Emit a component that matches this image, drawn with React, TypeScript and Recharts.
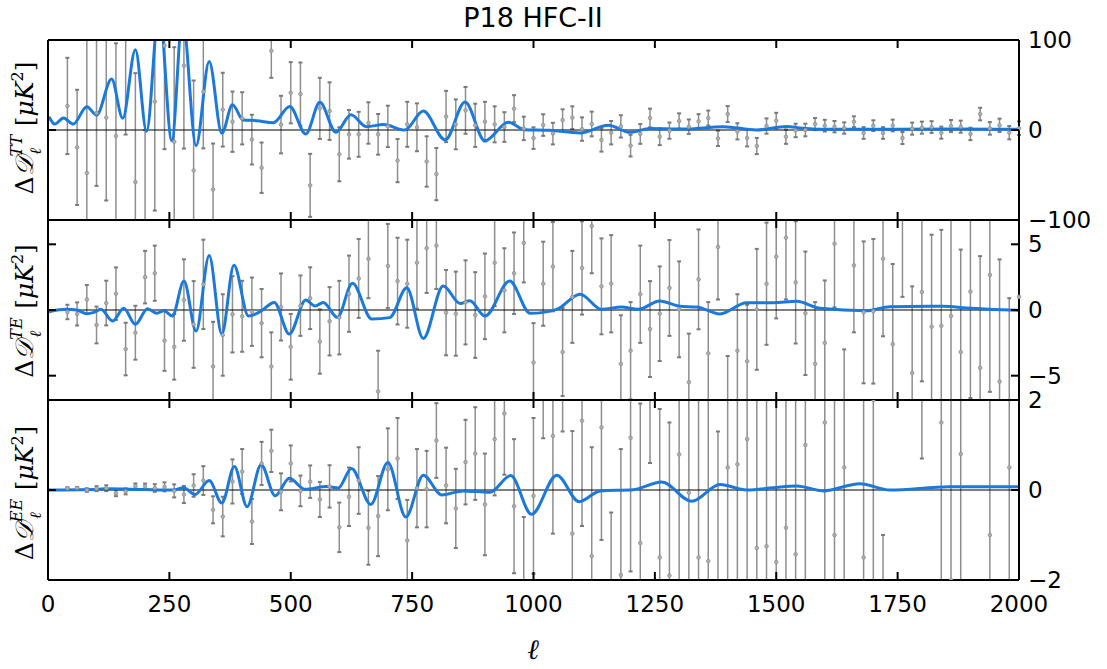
import React from 'react';
import { ComposedChart, Line, Scatter, Bar, XAxis, YAxis, ReferenceLine } from 'recharts';

const W = 1107;
const H = 669;
const PLOT_LEFT = 48;
const PLOT_RIGHT = 1019;

const FONT = '"DejaVu Sans", sans-serif';
const MATH = '"DejaVu Serif", serif';
const BLUE = '#1b79dc';
const GREY = '#8e8e8e';

// multipole bin centres of the residual points
const ELL = [
  40, 60, 80, 100, 120, 140, 160, 180, 200, 220,
  240, 260, 280, 300, 320, 340, 360, 380, 400, 420,
  440, 460, 480, 500, 520, 540, 560, 580, 600, 620,
  640, 660, 680, 700, 720, 740, 760, 780, 800, 820,
  840, 860, 880, 900, 920, 940, 960, 980, 1000, 1020,
  1040, 1060, 1080, 1100, 1120, 1140, 1160, 1180, 1200, 1220,
  1240, 1260, 1280, 1300, 1320, 1340, 1360, 1380, 1400, 1420,
  1440, 1460, 1480, 1500, 1520, 1540, 1560, 1580, 1600, 1620,
  1640, 1660, 1680, 1700, 1720, 1740, 1760, 1780, 1800, 1820,
  1840, 1860, 1880, 1900, 1920, 1940, 1960, 1980, 2000,
];

const TT_VAL = [
  26.7, -19.3, -47.8, 18.9, 13.7, -6.7, 110, -57.8, -120, 31.5,
  93.7, -13, 71.4, -45, 42.6, -66, 22.6, 9.2, 13, -10.7,
  -41.9, 88, 6, 41.4, 40, -61.5, 24, 21, -27, -4.8,
  -4.8, 7.8, -4.8, 4, -34, 6.3, 3, -35, -49, 15,
  6.3, 21.8, 5.2, 9.3, 6.3, 3.3, 23.7, 1.8, -9, 5.5,
  -4, 11, 13.7, 1, 6.7, -11, -3, 4, -17.4, -4.4,
  13.3, -7.4, -0.7, 10, 3.7, 9.6, 13.3, -9.3, 17.7, -1.5,
  -8.9, -17.8, 4.4, 10.4, -7.4, -0.5, 0, 6.6, 4.8, 3.7,
  2.2, 9.2, -3.3, 4.8, -3.3, 5, -8.9, 1.5, 2.6, 3.3,
  -3, 4.4, 3.7, -4.4, 17.7, 1.8, 5.2, -3, 2,
];
const TT_ERR = [
  53.5, 64, 160, 81, 92, 103, 115, 121, 120, 121,
  115, 105, 92, 100, 63, 51, 41, 33.5, 29, 27.6,
  28, 30, 32, 34, 35, 35, 34, 32, 30, 27,
  25, 23, 22.6, 23, 24, 25, 26.6, 28, 29, 28.5,
  27.7, 26, 24, 22, 20, 16.5, 15, 13, 12, 12,
  12, 12, 12.6, 13, 13.7, 13, 13, 12.4, 12, 11,
  10.4, 9.4, 9, 8.5, 8, 8, 8.3, 8.5, 8.9, 9,
  9.4, 9, 8.5, 8.7, 8, 7.5, 7, 6.7, 6.5, 6.3,
  6.3, 6, 6.5, 6, 6.5, 6.5, 6.7, 6.7, 6.7, 6.5,
  6.7, 6.7, 6.7, 6.9, 7, 7, 7.4, 7.4, 7.5,
];

const TE_VAL = [
  -0.15, -0.3, 0.8, -1.14, 0.53, 1.24, -2.97, -1.73, 2.5, 2.8,
  -2.33, -2.8, 0.76, -1.1, 1.95, -4.3, -1.9, -0.33, -0.48, -0.13,
  -1, -4.3, 0.23, -2.8, 0.33, 0.9, -2.4, -0.86, -0.58, 1.24,
  2.4, 3.9, -6.2, 3.35, 2.2, 2, 3.6, 4.7, 4.9, -0.2,
  -0.28, 0.58, -0.38, 1.04, 3.6, 1.5, 2.8, 5.1, -4, 2,
  3.3, -3.2, 1, 3.2, 6.4, 1.8, 2, -4.1, -3.1, 1.2,
  -1.45, -0.28, 1.68, 0.05, -5.5, 2.33, -3.3, 4.8, -7.6, -3.1,
  -3.9, 0.05, 2, 4.06, 5.5, 2.1, -0.25, -4.1, -2.5, 5.05,
  -7.9, 3.4, -0.18, -0.1, 3.9, -2.6, 7, -4.8, 1.37, -1.27,
  -1.2, -0.45, -3.2, 1.4, -4.4, 2.67, -5.45, -8.7, 1,
];
const TE_ERR = [
  0.55, 0.88, 1.1, 1.4, 1.7, 2, 2, 2.05, 2, 2.1,
  2.3, 2.5, 3.1, 3.3, 3.4, 3.4, 3.1, 2.9, 2.7, 2.6,
  2.6, 2.6, 2.55, 2.5, 2.3, 2.35, 2.45, 2.6, 2.8, 2.9,
  3, 3, 3.1, 3.2, 3.3, 3.35, 3.5, 3.4, 3.3, 3.25,
  3.2, 3.2, 3.26, 3.26, 3.3, 3.2, 3.1, 3, 3, 3.2,
  3.4, 3.35, 3.5, 3.55, 3.6, 3.65, 3.7, 3.7, 3.7, 3.7,
  3.65, 3.6, 3.65, 3.65, 3.7, 3.8, 3.9, 4, 4.1, 4.3,
  4.3, 4.6, 4.65, 4.7, 4.7, 4.65, 4.7, 4.7, 4.75, 4.85,
  4.9, 5.1, 5.4, 5.5, 5.9, 6.1, 6, 6.6, 6.8, 7,
  7.3, 7.5, 7.8, 8.1, 8.5, 8.9, 9.3, 9.6, 10,
];

const EE_VAL = [
  0.04, 0.045, 0, 0.03, 0.04, -0.07, -0.03, 0.09, 0.08, 0.045,
  0.07, -0.02, -0.1, 0.1, 0.21, -0.44, -0.59, 0.19, 0.41, -0.7,
  0.59, 0.87, -0.04, 0.59, -0.02, 0.185, -0.21, 0.08, -0.83, -0.15,
  0.21, -0.84, -0.58, 0.46, 0.7, -1.12, 0.04, 0.02, 1.1, 0.1,
  -0.41, 0.62, 0.81, -0.32, 1.13, 1.7, -0.36, -2.2, -0.13, 3,
  1.2, 3.4, -0.97, 1.54, -1.47, 1.39, -3.1, -1.89, 1.16, -1.18,
  3.8, -1.5, -1.9, 0.79, -0.06, -1.5, -1.58, -2.6, 0.5, 0.57,
  1.13, -1.29, -1.25, -1.6, -0.84, -1.43, 1, 7.5, 1.5, -1,
  0.5, -7.8, -1.5, 2, -6.8, 8.5, -8.6, 9, 7.3, -9.5,
  1.5, -2, 0.8, 10.5, -11, -1, 11.5, 0.5, -12,
];
const EE_ERR = [
  0.02, 0.02, 0.04, 0.055, 0.065, 0.067, 0.067, 0.055, 0.063, 0.085,
  0.1, 0.145, 0.19, 0.25, 0.32, 0.3, 0.44, 0.49, 0.5, 0.5,
  0.48, 0.47, 0.41, 0.4, 0.34, 0.36, 0.39, 0.47, 0.55, 0.65,
  0.74, 0.82, 0.89, 0.91, 0.9, 0.9, 0.87, 0.85, 0.83, 0.84,
  0.88, 0.94, 1.03, 1.13, 1.25, 1.36, 1.49, 1.6, 1.73, 1.85,
  2.17, 2.1, 2.28, 2.34, 2.42, 2.5, 2.6, 2.8, 2.97, 3.1,
  3.2, 3.3, 3.4, 3.5, 3.6, 3.7, 3.8, 3.9, 4, 4.1,
  4.2, 4.3, 4.4, 4.5, 4.6, 4.7, 4.8, 4.9, 5, 5.1,
  5.2, 5.3, 5.5, 5.6, 5.8, 6, 6.2, 6.4, 6.6, 6.9,
  7.1, 7.4, 7.7, 8, 8.3, 8.6, 9, 9.3, 9.6,
];

// model difference curves, sampled at their turning points
const TT_CURVE_L = [
  2, 14, 32, 52, 80, 100, 131, 154, 180, 203, 229, 255, 277, 305, 332, 358, 380, 402,
  430, 464, 498, 531, 560, 593, 624, 656, 691, 735, 773, 818, 859, 900, 948, 982,
  1033, 1096, 1154, 1199, 1240, 1308, 1391, 1459, 1521, 1549, 1597, 1734, 1871, 2000,
];
const TT_CURVE_V = [
  14.8, 6.6, 13.3, 6.6, 25.9, 16.6, 56.6, 13, 89.2, -1.5, 135, -12, 125, -17.4, 76, -3.7, 28, 11,
  10.4, 8, 26, -4.4, 30.7, -2.6, 17, 3.7, 6, 0, 21, -11, 31, -12, 8.5, 0.3,
  -0.4, -3.3, 5.2, -2.6, 1.8, 1, 3.7, 0, 4, 2.2, 0.7, 0.7, 1, 0.7,
];

const TE_CURVE_L = [
  2, 38, 59, 80, 93, 109, 133, 156, 180, 205, 224, 239, 256, 280, 305, 332, 358, 383,
  413, 437, 466, 497, 531, 550, 567, 596, 627, 667, 704, 739, 773, 814, 849, 869,
  900, 951, 993, 1048, 1096, 1140, 1181, 1216, 1260, 1302, 1336, 1384, 1439, 1494,
  1542, 1590, 1686, 1734, 1844, 1892, 2000,
];
const TE_CURVE_V = [
  -0.13, 0.05, 0, -0.28, -0.2, 0.05, -0.84, 0.13, -1.09, 0.1, -0.25, -0.05, -0.46, 2.2, -1.6, 4.14, -1.83, 3.4,
  -0.46, -0.13, 0.58, -1.83, 0.76, 0.3, 0.58, -0.56, 2.03, -0.69, -0.58, 1.7, -2.16, 1.83, 0.5, 0.71,
  -0.46, 2.2, -0.25, 0.05, 1.2, 0.05, 0.23, 0.05, 0.69, 0.28, 0.23, -0.3, 0.56, 0.56,
  0.66, 0.13, -0.05, 0.25, 0.28, 0.15, -0.03,
];

const EE_CURVE_L = [
  2, 100, 121, 200, 258, 279, 303, 332, 358, 384, 410, 439, 468, 497, 529, 574, 598,
  625, 665, 700, 737, 773, 811, 855, 910, 953, 996, 1048, 1094, 1137, 1205, 1264,
  1326, 1384, 1439, 1494, 1542, 1597, 1672, 1734, 1857, 2000,
];
const EE_CURVE_V = [
  0, 0.01, 0.03, 0.01, 0, 0.05, -0.1, 0.21, -0.29, 0.52, -0.37, 0.56, -0.13, 0.26, 0.015, 0.08, 0.044,
  0.48, -0.32, 0.61, -0.6, 0.33, -0.11, -0.02, -0.05, 0.32, -0.54, 0.33, -0.26, -0.02, 0.007, 0.18,
  -0.25, 0.12, 0, 0.05, 0.09, -0.02, 0.14, 0, 0.07, 0.07,
];

const X_TICKS = [0, 250, 500, 750, 1000, 1250, 1500, 1750, 2000];
const TT_TICKS = [-100, 0, 100];
const TE_TICKS = [-5, 0, 5];
const EE_TICKS = [-2, 0, 2];

type Pt = { l: number; v: number; e?: number };

const points = (vals: number[], errs: number[]): Pt[] =>
  ELL.map((l, i) => ({ l, v: vals[i], e: errs[i] }));
const curve = (ls: number[], vs: number[]): Pt[] => ls.map((l, i) => ({ l, v: vs[i] }));
const errRange = (d: Pt) => [d.v - (d.e ?? 0), d.v + (d.e ?? 0)];

const fmt = (v: number) => (v < 0 ? `\u2212${Math.abs(v)}` : `${v}`);

const TICK_LEN = 8;
const TICK_FONT = 23;

const xTick = (side: 'top' | 'bottom', label: boolean) => (p: any) => {
  const { x, y, payload } = p;
  const dir = side === 'top' ? 1 : -1;
  return (
    <g>
      <line x1={x} x2={x} y1={y} y2={y + dir * TICK_LEN} stroke="#000" strokeWidth={2} />
      {label && (
        <text x={x} y={y + 32} textAnchor="middle" fontSize={TICK_FONT} fontFamily={FONT} fill="#000">
          {payload.value}
        </text>
      )}
    </g>
  );
};

const yTick = (side: 'left' | 'right') => (p: any) => {
  const { x, y, payload } = p;
  const dir = side === 'left' ? 1 : -1;
  return (
    <g>
      <line x1={x} x2={x + dir * TICK_LEN} y1={y} y2={y} stroke="#000" strokeWidth={2} />
      {side === 'right' && (
        <text x={x + 9} y={y} dominantBaseline="central" fontSize={TICK_FONT} fontFamily={FONT} fill="#000">
          {fmt(payload.value)}
        </text>
      )}
    </g>
  );
};

const Dot = (p: any) => (
  <circle cx={p.cx} cy={p.cy} r={1.8} fill="#b0b0b0" stroke={GREY} strokeWidth={0.8} />
);

// vertical error bar with small caps, drawn inside the rect the range bar gives
const ErrShape = (p: any) => {
  const { x, y, width, height } = p;
  if (x == null || y == null) return null;
  const cx = x + width / 2;
  const y0 = Math.min(y, y + height);
  const y1 = Math.max(y, y + height);
  return (
    <g>
      <line x1={cx} x2={cx} y1={y0} y2={y1} stroke={GREY} strokeWidth={1.5} />
      <line x1={cx - 2} x2={cx + 2} y1={y0} y2={y0} stroke="#7a7a7a" strokeWidth={2} />
      <line x1={cx - 2} x2={cx + 2} y1={y1} y2={y1} stroke="#7a7a7a" strokeWidth={2} />
    </g>
  );
};

type PanelProps = {
  top: number;
  bottom: number;
  domain: [number, number];
  ticks: number[];
  data: Pt[];
  model: Pt[];
  showX: boolean;
};

const axisLine = { stroke: '#000', strokeWidth: 2 };

const Panel: React.FC<PanelProps> = ({ top, bottom, domain, ticks, data, model, showX }) => (
  <div style={{ position: 'absolute', left: 0, top: 0 }}>
    <ComposedChart
      width={W}
      height={H}
      data={data}
      margin={{ top: top - 1, bottom: H - bottom - 1, left: PLOT_LEFT - 1, right: W - PLOT_RIGHT - 1 }}
    >
      <XAxis
        xAxisId="b"
        dataKey="l"
        type="number"
        domain={[0, 2000]}
        ticks={X_TICKS}
        interval={0}
        height={1}
        tickSize={0}
        tickMargin={0}
        tickLine={false}
        axisLine={axisLine}
        tick={xTick('bottom', showX)}
      />
      <XAxis
        xAxisId="t"
        orientation="top"
        dataKey="l"
        type="number"
        domain={[0, 2000]}
        ticks={X_TICKS}
        interval={0}
        height={1}
        tickSize={0}
        tickMargin={0}
        tickLine={false}
        axisLine={axisLine}
        tick={xTick('top', false)}
      />
      <YAxis
        yAxisId="l"
        type="number"
        domain={domain}
        allowDataOverflow
        ticks={ticks}
        interval={0}
        width={1}
        tickSize={0}
        tickMargin={0}
        tickLine={false}
        axisLine={axisLine}
        tick={yTick('left')}
      />
      <YAxis
        yAxisId="r"
        orientation="right"
        type="number"
        domain={domain}
        allowDataOverflow
        ticks={ticks}
        interval={0}
        width={1}
        tickSize={0}
        tickMargin={0}
        tickLine={false}
        axisLine={axisLine}
        tick={yTick('right')}
      />
      <ReferenceLine xAxisId="b" yAxisId="l" y={0} stroke="#000" strokeWidth={1.2} />
      <Bar
        xAxisId="b"
        yAxisId="l"
        dataKey={errRange}
        barSize={4}
        shape={ErrShape}
        isAnimationActive={false}
      />
      <Scatter
        xAxisId="b"
        yAxisId="l"
        data={data}
        dataKey="v"
        shape={Dot}
        isAnimationActive={false}
      />
      <Line
        xAxisId="b"
        yAxisId="l"
        data={model}
        dataKey="v"
        type="monotone"
        stroke={BLUE}
        strokeWidth={3}
        dot={false}
        isAnimationActive={false}
      />
    </ComposedChart>
  </div>
);

const YLabel: React.FC<{ cy: number; sup: string }> = ({ cy, sup }) => (
  <text
    transform={`translate(33, ${cy}) rotate(-90)`}
    textAnchor="middle"
    fontFamily={MATH}
    fontSize={25}
    fill="#000"
  >
    <tspan>Δ</tspan>
    <tspan fontStyle="italic">𝒟</tspan>
    <tspan fontSize={16} dy={-11} fontStyle="italic">{sup}</tspan>
    <tspan fontSize={16} dx={-9 * sup.length - 2} dy={19} fontStyle="italic">ℓ</tspan>
    <tspan dx={9 * sup.length - 4} dy={-8}>{' ['}</tspan>
    <tspan fontStyle="italic">μK</tspan>
    <tspan fontSize={16} dy={-10}>2</tspan>
    <tspan dy={10}>]</tspan>
  </text>
);

export default function App() {
  return (
    <div style={{ position: 'absolute', left: 0, top: 0, width: W, height: H, background: '#fff' }}>
      <Panel
        top={40}
        bottom={220}
        domain={[-100, 100]}
        ticks={TT_TICKS}
        data={points(TT_VAL, TT_ERR)}
        model={curve(TT_CURVE_L, TT_CURVE_V)}
        showX={false}
      />
      <Panel
        top={220}
        bottom={400}
        domain={[-6.85, 6.85]}
        ticks={TE_TICKS}
        data={points(TE_VAL, TE_ERR)}
        model={curve(TE_CURVE_L, TE_CURVE_V)}
        showX={false}
      />
      <Panel
        top={400}
        bottom={580}
        domain={[-2, 2]}
        ticks={EE_TICKS}
        data={points(EE_VAL, EE_ERR)}
        model={curve(EE_CURVE_L, EE_CURVE_V)}
        showX
      />
      <svg width={W} height={H} style={{ position: 'absolute', left: 0, top: 0, pointerEvents: 'none' }}>
        <text x={533} y={27} textAnchor="middle" fontSize={27} fontFamily={FONT} fill="#000">
          P18 HFC-II
        </text>
        <text x={533} y={659} textAnchor="middle" fontSize={28} fontFamily={MATH} fontStyle="italic" fill="#000">
          ℓ
        </text>
        <YLabel cy={128} sup="TT" />
        <YLabel cy={311} sup="TE" />
        <YLabel cy={493} sup="EE" />
      </svg>
    </div>
  );
}
